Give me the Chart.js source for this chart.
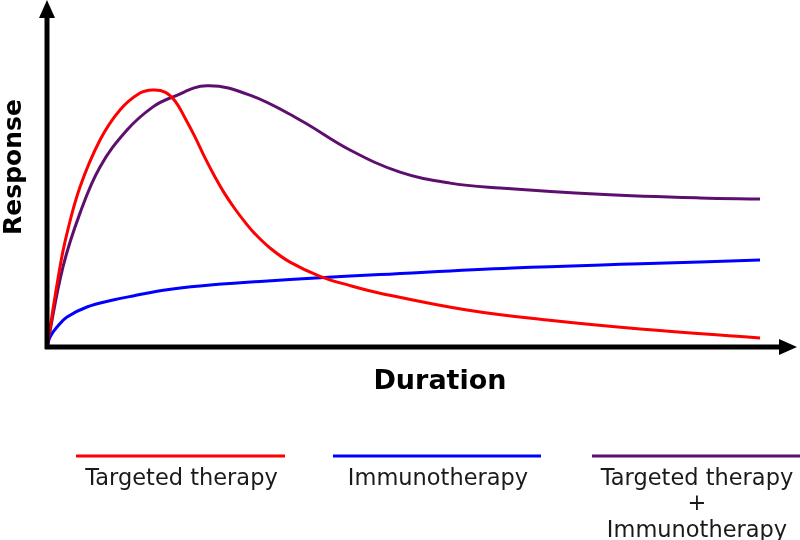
<!DOCTYPE html>
<html>
<head>
<meta charset="utf-8">
<script src="https://cdn.jsdelivr.net/npm/chart.js@4"></script>
<style>
  html, body { margin: 0; padding: 0; background: #fff; }
  #wrap { width: 800px; height: 540px; }
</style>
</head>
<body>
<div id="wrap"><canvas id="myChart" width="800" height="540"></canvas></div>
<script>
// curves: x = duration (0-100), y = response (0-100)
const targetedX = [0, 1.73, 2.67, 4.4, 7.07, 9.73, 12.4, 14.13, 15.73, 17.07, 18.4, 19.73, 21.07, 22.4, 23.73, 25.07, 26.4, 27.73, 29.73, 32.4, 36.4, 40.4, 44.4, 56.0, 66.7, 79.1, 95.07];
const targetedY = [0, 23.2, 33.0, 46.4, 60.0, 68.7, 73.6, 74.5, 73.9, 71.3, 66.4, 60.9, 54.8, 49.3, 44.3, 40.0, 36.2, 32.8, 28.7, 24.6, 20.5, 17.8, 15.6, 10.7, 7.8, 5.2, 2.6];

const immunoX = [0, 0.4, 1.33, 2.67, 5.33, 8.8, 11.47, 16, 20.4, 28.4, 36.4, 44.4, 62.1, 79.1, 95.07];
const immunoY = [0, 2.9, 5.8, 8.7, 11.6, 13.6, 14.8, 16.6, 17.7, 19.0, 20.1, 21.0, 22.9, 24.1, 25.2];

const comboX = [0, 2.13, 4.4, 7.07, 10.67, 14.13, 16.8, 21.33, 27.07, 33.73, 40.4, 47.07, 53.73, 60.4, 73.7, 87.07, 95.07];
const comboY = [0, 23.2, 38.8, 52.2, 62.9, 69.6, 72.5, 75.7, 73.0, 65.8, 57.1, 50.7, 47.5, 46.1, 44.3, 43.2, 42.9];

const seriesNames = ['Targeted therapy', 'Immunotherapy', 'Targeted therapy\n+\nImmunotherapy'];
const seriesColors = ['#ff0000', '#0000ff', '#5e0f6e'];
const xTitle = 'Duration';
const yTitle = 'Response';

const toPoints = (xs, ys) => xs.map((x, i) => ({ x: x, y: ys[i] }));

// axes with arrow heads + the two titles
const axesPlugin = {
  id: 'axesArrows',
  afterDatasetsDraw(chart) {
    const ctx = chart.ctx;
    const a = chart.chartArea;
    ctx.save();
    ctx.fillStyle = '#000';
    ctx.strokeStyle = '#000';
    ctx.lineWidth = 5;
    ctx.beginPath();
    ctx.moveTo(a.left, a.top + 14);
    ctx.lineTo(a.left, a.bottom + 2);
    ctx.moveTo(a.left - 2, a.bottom);
    ctx.lineTo(a.right - 14, a.bottom);
    ctx.stroke();
    // arrow up
    ctx.beginPath();
    ctx.moveTo(a.left, a.top - 2);
    ctx.lineTo(a.left - 8, a.top + 16);
    ctx.lineTo(a.left + 8, a.top + 16);
    ctx.closePath();
    ctx.fill();
    // arrow right
    ctx.beginPath();
    ctx.moveTo(a.right, a.bottom);
    ctx.lineTo(a.right - 18, a.bottom - 8);
    ctx.lineTo(a.right - 18, a.bottom + 8);
    ctx.closePath();
    ctx.fill();

    ctx.textAlign = 'center';
    ctx.textBaseline = 'alphabetic';
    ctx.font = 'bold 27px "DejaVu Sans"';
    ctx.fillText(xTitle, 440, 389);
    ctx.save();
    ctx.translate(21, 167);
    ctx.rotate(-Math.PI / 2);
    ctx.font = 'bold 25px "DejaVu Sans"';
    ctx.fillText(yTitle, 0, 0);
    ctx.restore();
    ctx.restore();
  }
};

// bottom legend: a line with the name centred under it
const legendPlugin = {
  id: 'bottomLegend',
  afterDraw(chart) {
    const ctx = chart.ctx;
    const spots = [[76, 285], [333, 541], [592, 800]];
    ctx.save();
    chart.data.datasets.forEach((ds, i) => {
      const [x0, x1] = spots[i];
      ctx.strokeStyle = ds.borderColor;
      ctx.lineWidth = 3;
      ctx.beginPath();
      ctx.moveTo(x0, 456);
      ctx.lineTo(x1, 456);
      ctx.stroke();
      ctx.fillStyle = '#1a1a1a';
      ctx.font = '22.5px "DejaVu Sans"';
      ctx.textAlign = 'center';
      const lines = ds.label.split('\n');
      const base = [485, 510, 537];
      lines.forEach((t, j) => ctx.fillText(t, (x0 + x1) / 2 + 1, base[j]));
    });
    ctx.restore();
  }
};

const makeSet = (i, xs, ys) => ({
  label: seriesNames[i],
  data: toPoints(xs, ys),
  borderColor: seriesColors[i],
  backgroundColor: seriesColors[i],
  borderWidth: 3,
  pointRadius: 0,
  tension: 0.4,
  fill: false
});

new Chart(document.getElementById('myChart'), {
  type: 'line',
  data: {
    datasets: [
      makeSet(0, targetedX, targetedY),
      makeSet(1, immunoX, immunoY),
      makeSet(2, comboX, comboY)
    ]
  },
  options: {
    responsive: false,
    animation: false,
    events: [],
    layout: { padding: { left: 47, right: 3, top: 2, bottom: 193 } },
    scales: {
      x: { type: 'linear', min: 0, max: 100, display: false },
      y: { min: 0, max: 100, display: false }
    },
    plugins: {
      legend: { display: false },
      tooltip: { enabled: false }
    }
  },
  plugins: [axesPlugin, legendPlugin]
});
</script>
</body>
</html>
